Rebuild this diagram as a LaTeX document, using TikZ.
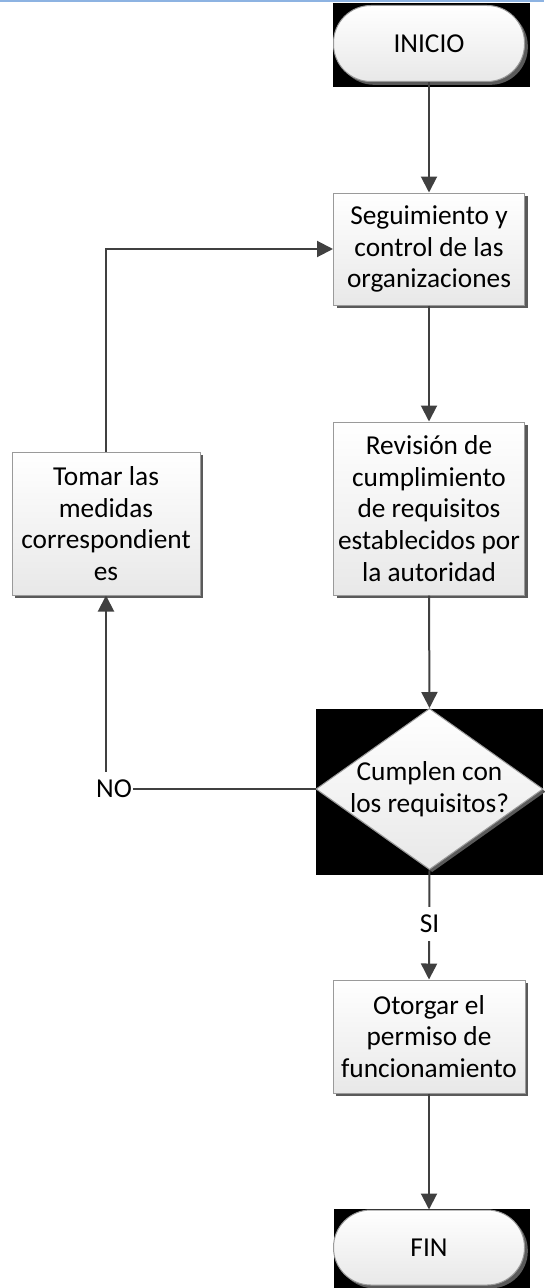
\documentclass[tikz,border=0pt]{standalone}
\usepackage{fontspec}
\setmainfont{Carlito}
\usetikzlibrary{shapes.geometric,shadows,arrows.meta}
\definecolor{linec}{HTML}{404040}
\definecolor{bordc}{HTML}{9A9A9A}
\definecolor{shadc}{HTML}{5A5A5A}
\definecolor{topblue}{RGB}{141,179,226}
\tikzset{
  txt/.style={font=\fontsize{20.5}{23.75}\selectfont, text=black},
  proc/.style={rectangle, draw=bordc, line width=0.75pt, top color=white, bottom color=black!9,
    drop shadow={shadow xshift=2.5pt, shadow yshift=-2.5pt, fill=shadc, opacity=1},
    align=center, txt, inner sep=0pt},
  term/.style={proc, rounded corners=28pt},
  decis/.style={diamond, draw=bordc, line width=0.75pt, top color=white, bottom color=black!9,
    drop shadow={shadow xshift=2pt, shadow yshift=-2pt, fill=shadc, opacity=1}, inner sep=0pt},
  conn/.style={draw=linec, line width=1.5pt},
  arr/.style={conn, -{Triangle[length=12pt,width=12pt]}},
  lbl/.style={fill=white, txt, inner xsep=1pt, inner ysep=0pt, minimum height=25pt},
  blackbg/.style={fill=black, draw=none}
}
\begin{document}
\begin{tikzpicture}[x=0.75pt,y=-0.75pt]
\useasboundingbox (0,0) rectangle (544,1288);
\fill[topblue] (0,0) rectangle (544,2);
% black backgrounds
\path[blackbg] (333,3) rectangle (530,87);
\path[blackbg] (316,709) rectangle (543,875);
\path[blackbg] (334,1209) rectangle (530,1288);
% nodes
\node[term, minimum width=143.25pt, minimum height=57pt] (inicio) at (429,43.5) {INICIO};
\node[proc, minimum width=143.25pt, minimum height=84pt] (seg) at (429,249) {Seguimiento y\\control de las\\organizaciones};
\node[proc, minimum width=143.25pt, minimum height=129.75pt] (rev) at (429,508.5) {Revisión de\\cumplimiento\\de requisitos\\establecidos por\\la autoridad};
\node[proc, minimum width=141pt, minimum height=107.25pt] (tom) at (106,523.5) {Tomar las\\medidas\\correspondient\\es};
\node[decis, minimum width=170.25pt, minimum height=120.75pt] (dia) at (429.5,789) {};
\node[txt, align=center] (diat) at (dia.center) {Cumplen con\\los requisitos?};
\node[proc, minimum width=144pt, minimum height=84.75pt] (otor) at (429,1036.5) {Otorgar el\\permiso de\\funcionamiento};
\node[term, minimum width=143.25pt, minimum height=56.25pt] (fin) at (429,1247.5) {FIN};
% connectors
\draw[arr] (inicio.south) -- (seg.north);
\draw[arr] (seg.south) -- (rev.north);
\draw[arr] (rev.south) -- (dia.north);
\draw[arr] (dia.west) -| (tom.south);
\node[lbl] (no) at (114,789) {NO};
\draw[arr] (tom.north) |- (seg.west);
\draw[arr] (dia.south) -- (otor.north);
\node[lbl] (si) at (429.5,924) {SI};
\draw[arr] (otor.south) -- (fin.north);
\end{tikzpicture}
\end{document}
